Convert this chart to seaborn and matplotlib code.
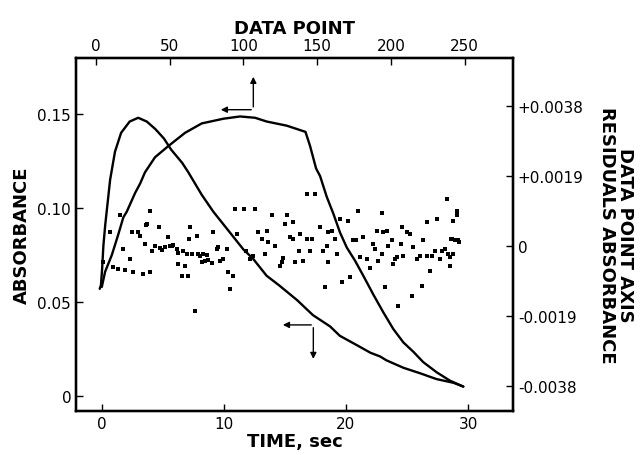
import matplotlib
matplotlib.use("Agg")
import matplotlib.pyplot as plt
import numpy as np
import seaborn as sns

sns.set_style("ticks")
plt.rcParams['font.family'] = ['DejaVu Sans']
plt.rc('xtick', direction='in', color='black')
plt.rc('ytick', direction='in', color='black')
plt.rc('axes', edgecolor='black', labelcolor='black')
plt.rc('text', color='black')

# fast curve: absorbance vs time (bottom axis)
fast_time = [-0.15, -0.05, 0.05, 0.15, 0.3, 0.45, 0.7, 1.1, 1.6, 2.3, 3.0, 3.7,
             4.4, 5.1, 5.7, 6.6, 7.1, 7.65, 8.2, 9.15, 10.5, 11.6, 12.4, 13.5,
             14.5, 16.0, 17.3, 18.7, 19.5, 20.9, 22.0, 22.8, 23.3, 24.7, 26.1,
             27.4, 28.8, 29.6]
fast_abs = [0.057, 0.059, 0.068, 0.080, 0.091, 0.100, 0.115, 0.130, 0.140, 0.146,
            0.148, 0.146, 0.142, 0.137, 0.131, 0.124, 0.119, 0.113, 0.107, 0.098,
            0.087, 0.078, 0.073, 0.064, 0.059, 0.051, 0.043, 0.037, 0.032, 0.027,
            0.023, 0.021, 0.019, 0.015, 0.012, 0.009, 0.007, 0.005]

# slow curve: absorbance vs data point (top axis)
slow_point = [3.9, 6.1, 10.7, 15.1, 18.5, 20.8, 26.5, 29.9, 33.2, 40.0, 49.1, 60.4,
              71.7, 86.4, 97.7, 107.9, 115.8, 129.4, 142.1, 145.2, 149.3, 152.0,
              156.5, 161.0, 165.5, 170.1, 175.7, 181.3, 188.1, 194.9, 201.7, 208.5,
              215.3, 222.0, 231.1, 240.2, 249.2]
slow_abs = [0.058, 0.066, 0.075, 0.086, 0.095, 0.098, 0.108, 0.113, 0.119, 0.127,
            0.133, 0.140, 0.145, 0.1475, 0.1487, 0.148, 0.146, 0.1438, 0.1405,
            0.133, 0.121, 0.117, 0.106, 0.097, 0.087, 0.079, 0.072, 0.064, 0.054,
            0.0445, 0.0356, 0.0285, 0.0235, 0.018, 0.0126, 0.0081, 0.005]

# residuals (x1e-4 absorbance) vs data point
resid_point = [16.3, 36.6, 34.4, 42.7, 24.2, 28.7, 29.9, 9.5, 18.5, 23.1, 33.2, 37.8,
               40.0, 43.4, 44.5, 49.1, 50.2, 52.5, 54.7, 55.9, 59.2, 61.5, 63.8, 63.3,
               68.3, 69.4, 70.6, 72.8, 73.9, 75.1, 76.2, 78.5, 79.6, 81.9, 83.0, 84.1,
               86.4, 88.6, 89.8, 90.9, 92.7, 94.3, 95.4, 100.6, 101.5, 104.5, 106.7,
               107.9, 110.1, 112.4, 115.8, 116.9, 114.7, 119.2, 121.4, 124.8, 126.0,
               127.1, 128.2, 129.8, 131.6, 133.4, 133.9, 135.0, 137.9, 138.4, 140.7,
               142.9, 142.9, 145.2, 146.3, 148.6, 152.0, 154.2, 155.4, 157.6, 156.5,
               157.6, 159.9, 162.1, 163.3, 165.5, 166.7, 171.2, 172.3, 174.6, 176.4,
               178.0, 179.1, 180.9, 183.6, 185.9, 188.2, 189.3, 190.4, 191.5, 193.8,
               193.8, 194.9, 196.1, 197.2, 198.3, 200.6, 201.7, 202.8, 204.0, 205.1,
               206.7, 207.4, 208.5, 210.8, 213.0, 214.2, 215.3, 217.5, 219.8, 220.9,
               222.1, 224.3, 226.6, 224.3, 227.7, 230.0, 231.1, 233.4, 234.5, 236.8,
               237.9, 239.0, 240.2, 241.3, 243.6, 244.7, 245.8, 244.7, 4.7, 11.5,
               15.1, 19.7, 25.3, 32.1, 36.6, 33.7, 28.7, 40.0, 46.8, 51.4, 55.8, 60.4,
               62.6, 58.1, 64.9, 71.7, 67.2, 242.2, 240.6, 246.3, 242.4, 240.2]
resid_e4 = [8.4, 9.6, 6.0, 5.3, 3.9, 3.9, 2.6, 3.7, -0.8, -3.5, 0.5, -1.3,
            0.1, -0.5, -1.0, 2.4, 0.1, 0.3, -0.8, -1.9, -1.3, -2.2, 5.1, 1.9,
            2.6, -2.2, -2.8, -2.2, -4.0, -2.4, -3.7, -4.6, 3.7, -0.8, -0.4, -4.0,
            -3.5, -0.8, -7.2, -11.7, -8.1, 10.2, 3.3, 10.2, -1.3, -3.5, -2.6,
            10.2, 3.9, 1.9, 4.2, 1.0, -2.2, 8.5, 0.1, -5.4, -4.4,
            -3.2, 6.0, 8.3, 2.4, 6.4, 1.9, -4.4, -1.5, 3.3, -4.2,
            1.9, 14.1, -1.5, 1.9, 14.1, 5.3, -1.3, -11.2, -4.4, 0.1,
            3.7, 4.2, 1.9, -2.2, 7.3, -9.9, 6.9, -8.5, 1.5, 1.5,
            9.6, -3.1, 2.4, -3.5, -6.1, 0.5, -0.8, 4.2, -4.0, 8.9,
            -2.2, 3.7, -11.2, 4.2, 0.1, 1.5, -4.9, -3.5, -3.1, -16.2,
            0.5, 5.1, -2.6, 3.7, 3.3, -13.5, -0.4, -3.5, -2.6, -10.8,
            1.5, 6.4, -6.7, -2.6, -2.6, -1.3, 7.3, -3.5, -1.3, -0.8,
            12.8, -2.2, -5.5, 1.9, 1.5, 9.6, 1.5, 8.4, -4.4, -5.7,
            -6.3, -6.5, -7.0, -7.6, -7.0, 5.7, 3.9, 0.1, -0.4, 0.1, -4.9, -5.4,
            -8.1, -8.1, -2.2, -4.4, -17.6, 6.9, 1.9, 1.2, -2.2, -3.0]
resid = np.array(resid_e4) * 1e-4

fig = plt.figure(figsize=(6.41, 4.56), dpi=100)
ax = fig.add_axes([0.1186, 0.0965, 0.6817, 0.7741])
ax_top = ax.twiny()
ax_res = ax_top.twinx()

sns.lineplot(x=fast_time, y=fast_abs, ax=ax, color='black', lw=1.7, sort=False)
sns.lineplot(x=slow_point, y=slow_abs, ax=ax_top, color='black', lw=1.7, sort=False)
sns.scatterplot(x=resid_point, y=resid, ax=ax_res, color='black', s=5,
                linewidth=0, marker='s')

ax.set_xlim(-2.09, 33.67)
ax.set_ylim(-0.008, 0.1798)
ax_top.set_xlim(-13.6, 282.9)
ax_res.set_ylim(-0.004491, 0.005116)

ax.set_xticks([0, 10, 20, 30])
ax.set_xticklabels(['0', '10', '20', '30'])
ax.set_yticks([0, 0.05, 0.10, 0.15])
ax.set_yticklabels(['0', '0.05', '0.10', '0.15'])
ax_top.set_xticks([0, 50, 100, 150, 200, 250])
ax_res.set_yticks([0.0038, 0.0019, 0, -0.0019, -0.0038])
ax_res.set_yticklabels(['+0.0038', '+0.0019', '0', '-0.0019', '-0.0038'])

fs = 11
for a in (ax, ax_top, ax_res):
    a.tick_params(labelsize=fs, length=5, width=1.0, direction='in',
                  colors='black')
    for s in a.spines.values():
        s.set_linewidth(1.6)
        s.set_color('black')

lab = dict(fontsize=13, fontweight='bold', color='black')
ax.set_xlabel('TIME, sec', labelpad=1, **lab)
ax.set_ylabel('ABSORBANCE', labelpad=5, **lab)
ax_top.set_xlabel('DATA POINT', labelpad=4, **lab)
ax_res.set_ylabel('DATA POINT AXIS\nRESIDUALS ABSORBANCE', rotation=270,
                  labelpad=36, linespacing=0.95, **lab)

# axis-indicator arrows
arw = dict(arrowstyle='-|>', color='black', lw=1.0, mutation_scale=9)
ax.annotate('', xy=(12.42, 0.1713), xytext=(12.42, 0.1523), arrowprops=arw)
ax.annotate('', xy=(9.53, 0.1523), xytext=(12.48, 0.1523), arrowprops=arw)
ax.annotate('', xy=(17.33, 0.0182), xytext=(17.33, 0.0378), arrowprops=arw)
ax.annotate('', xy=(14.61, 0.0378), xytext=(17.39, 0.0378), arrowprops=arw)

fig.savefig('out.png', dpi=100)
